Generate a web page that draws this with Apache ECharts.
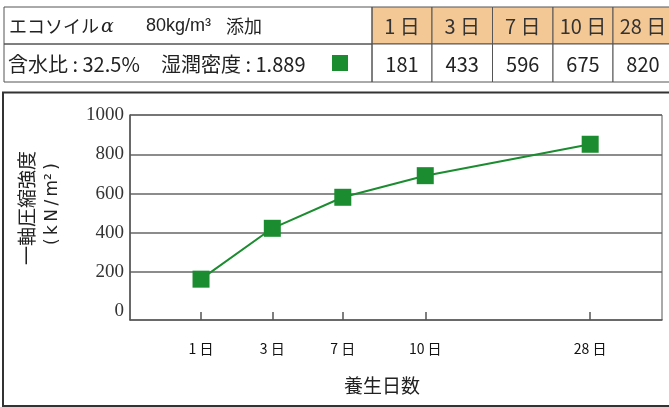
<!DOCTYPE html>
<html>
<head>
<meta charset="utf-8">
<script src="https://cdn.jsdelivr.net/npm/echarts@6/dist/echarts.min.js"></script>
<style>
  html, body { margin: 0; padding: 0; background: #fff; }
  #main { width: 669px; height: 407px; }
</style>
</head>
<body>
<div id="main"></div>
<script>
// 養生日数
var days = [1, 3, 7, 10, 28];
// where each day sits on the unevenly spaced x axis (0..100)
var dayPos = [13.35, 26.75, 40.0, 55.5, 86.5];
// 一軸圧縮強度 as plotted (kN/m2)
var strength = [164, 423, 581, 691, 851];
// values printed in the table above the chart
var tableValues = [181, 433, 596, 675, 820];
var yLabels = [0, 200, 400, 600, 800, 1000];
var yLines = [200, 400, 600, 800, 1000];

var green = '#1b8c2f';
var jp = '"Noto Sans CJK JP", "Noto Sans", sans-serif';

// table drawn with graphic elements
var colX = [372, 432, 492.5, 553, 613, 673];
var rowY = [7, 44, 82];
var g = [];
for (var i = 0; i < days.length; i++) {
    g.push({type: 'rect', shape: {x: colX[i], y: rowY[0], width: colX[i + 1] - colX[i], height: rowY[1] - rowY[0]},
        style: {fill: '#f4c894', stroke: '#555', lineWidth: 1}});
    g.push({type: 'rect', shape: {x: colX[i], y: rowY[1], width: colX[i + 1] - colX[i], height: rowY[2] - rowY[1]},
        style: {fill: '#fff', stroke: '#555', lineWidth: 1}});
    g.push({type: 'text', x: (colX[i] + colX[i + 1]) / 2, y: (rowY[0] + rowY[1]) / 2 + 1,
        style: {text: days[i] + ' 日', fill: '#333', fontSize: 20, fontFamily: jp, align: 'center', verticalAlign: 'middle'}});
    g.push({type: 'text', x: (colX[i] + colX[i + 1]) / 2, y: (rowY[1] + rowY[2]) / 2 + 1,
        style: {text: String(tableValues[i]), fill: '#222', fontSize: 20, fontFamily: jp, align: 'center', verticalAlign: 'middle'}});
}
g.push({type: 'rect', shape: {x: 4, y: rowY[0], width: colX[0] - 4, height: rowY[1] - rowY[0]},
    style: {fill: 'none', stroke: '#555', lineWidth: 1}});
g.push({type: 'rect', shape: {x: 4, y: rowY[1], width: colX[0] - 4, height: rowY[2] - rowY[1]},
    style: {fill: 'none', stroke: '#555', lineWidth: 1}});
g.push({type: 'text', x: 9, y: 26, style: {text: 'エコソイル', fill: '#222', fontSize: 18, fontFamily: jp, verticalAlign: 'middle'}});
g.push({type: 'text', x: 101, y: 27, style: {text: 'α', fill: '#222', fontSize: 19, fontStyle: 'italic', fontFamily: '"DejaVu Serif", serif', verticalAlign: 'middle'}});
g.push({type: 'text', x: 146, y: 26, style: {text: '80kg/m³', fill: '#222', fontSize: 18, fontFamily: '"Liberation Sans Narrow", "Liberation Sans", sans-serif', verticalAlign: 'middle'}});
g.push({type: 'text', x: 226, y: 26, style: {text: '添加', fill: '#222', fontSize: 18, fontFamily: jp, verticalAlign: 'middle'}});
g.push({type: 'text', x: 8, y: 64, style: {text: '含水比 : 32.5%', fill: '#222', fontSize: 20, fontFamily: jp, verticalAlign: 'middle'}});
g.push({type: 'text', x: 161, y: 64, style: {text: '湿潤密度 : 1.889', fill: '#222', fontSize: 20, fontFamily: jp, verticalAlign: 'middle'}});
g.push({type: 'rect', shape: {x: 332, y: 55, width: 16, height: 16}, style: {fill: green}});

// chart frame and y-axis name
g.push({type: 'rect', shape: {x: 3, y: 92.5, width: 680, height: 313.5}, style: {fill: 'none', stroke: '#333', lineWidth: 2}});
g.push({type: 'text', x: 27, y: 208, rotation: Math.PI / 2,
    style: {text: '一軸圧縮強度', fill: '#222', fontSize: 19, fontFamily: jp, align: 'center', verticalAlign: 'middle'}});
g.push({type: 'text', x: 53, y: 204, rotation: Math.PI / 2,
    style: {text: '(\u2009k\u2009N\u2009/\u2009m²\u2009)', fill: '#222', fontSize: 17, fontFamily: '"DejaVu Sans", sans-serif', align: 'center', verticalAlign: 'middle'}});

var chart = echarts.init(document.getElementById('main'));
chart.setOption({
    animation: false,
    graphic: g,
    grid: {left: 130, top: 115, width: 532, height: 205, show: true, borderColor: '#555', borderWidth: 1},
    xAxis: {
        type: 'value', min: 0, max: 100,
        name: '養生日数', nameLocation: 'middle', nameGap: 56,
        nameTextStyle: {fontFamily: jp, fontSize: 19, color: '#222', padding: [0, 28, 0, 0]},
        axisLine: {onZero: false, lineStyle: {color: '#555', width: 1.5}},
        axisTick: {show: true, inside: true, length: 8, customValues: dayPos, lineStyle: {color: '#555', width: 1.5}},
        axisLabel: {
            customValues: dayPos, margin: 22,
            fontFamily: '"Liberation Sans Narrow", ' + jp, fontSize: 14, color: '#111',
            formatter: function (v) {
                var k = 0;
                for (var i = 1; i < dayPos.length; i++) {
                    if (Math.abs(dayPos[i] - v) < Math.abs(dayPos[k] - v)) k = i;
                }
                return days[k] + ' 日';
            }
        },
        splitLine: {show: false}
    },
    yAxis: {
        type: 'value', min: -44, max: 1000,
        axisLine: {show: true, onZero: false, lineStyle: {color: '#555', width: 1.5}},
        axisTick: {show: false, customValues: yLines},
        axisLabel: {customValues: yLabels, margin: 6, fontFamily: '"Liberation Serif", serif', fontSize: 19, color: '#333',
            formatter: function (v) { return String(v); }},
        splitLine: {show: true, lineStyle: {color: '#666', width: 1.5}}
    },
    series: [{
        type: 'line',
        data: dayPos.map(function (p, i) { return [p, strength[i]]; }),
        symbol: 'rect', symbolSize: 17,
        itemStyle: {color: green},
        lineStyle: {color: green, width: 2}
    }]
});
</script>
</body>
</html>
